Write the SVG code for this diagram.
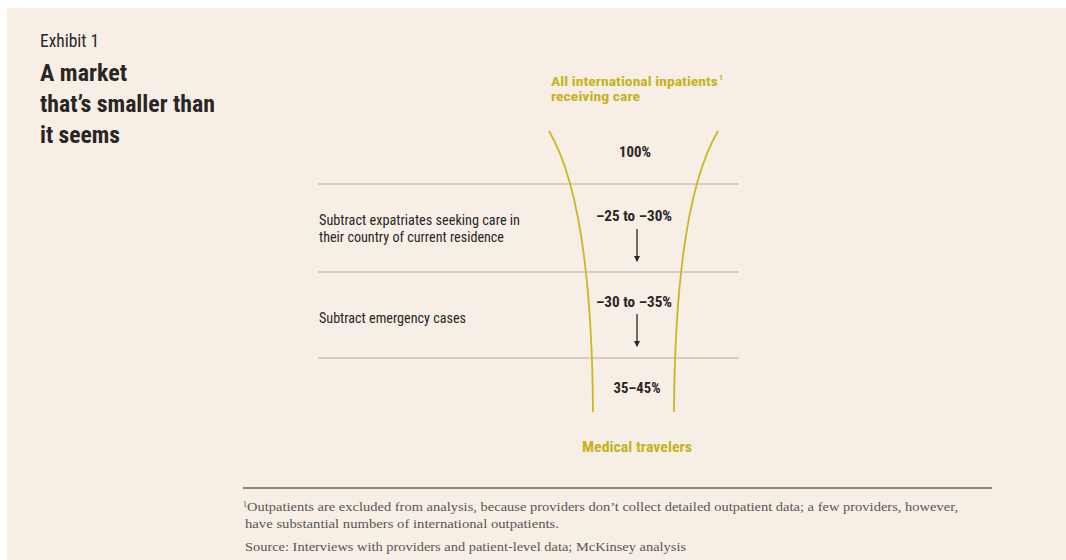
<svg xmlns="http://www.w3.org/2000/svg" width="1066" height="560" viewBox="0 0 1066 560">
  <style>
    .cond { font-family: "Liberation Sans Narrow", "Roboto Condensed", "Liberation Sans", Arial, sans-serif; fill: #2a2626; }
    .bold { font-weight: bold; }
    .gold { fill: #c6b31c; }
    .note { font-family: "Liberation Serif", "Times New Roman", serif; fill: #5a5555; font-size: 12px; }
    .rule { stroke: #d3cdc6; stroke-width: 2; }
    .funnel { fill: none; stroke: #c9b91e; stroke-width: 1.8; }
    .arrow { stroke: #2a2626; stroke-width: 1.3; marker-end: url(#ah); }
  </style>
  <defs>
    <marker id="ah" viewBox="0 0 6 6" refX="5" refY="3" markerWidth="6" markerHeight="6" markerUnits="userSpaceOnUse" orient="auto">
      <path d="M0,0 L6,3 L0,6 Z" fill="#2a2626"/>
    </marker>
  </defs>

  <rect x="0" y="0" width="1066" height="560" fill="#ffffff"/>
  <rect x="7" y="8" width="1059" height="552" fill="#f7efe6"/>

  <g id="header">
    <text class="cond" x="40" y="47" font-size="18" textLength="59" lengthAdjust="spacingAndGlyphs">Exhibit 1</text>
    <text class="cond bold" x="40" y="81" font-size="23" textLength="87" lengthAdjust="spacingAndGlyphs">A market</text>
    <text class="cond bold" x="40" y="112" font-size="23" textLength="175" lengthAdjust="spacingAndGlyphs">that’s smaller than</text>
    <text class="cond bold" x="40" y="143" font-size="23" textLength="80" lengthAdjust="spacingAndGlyphs">it seems</text>
  </g>

  <g id="rules">
    <line class="rule" x1="318" y1="184" x2="739" y2="184"/>
    <line class="rule" x1="318" y1="272" x2="739" y2="272"/>
    <line class="rule" x1="318" y1="358" x2="739" y2="358"/>
  </g>

  <g id="funnel">
    <path class="funnel" d="M549,131 C572,170 592,250 593,412"/>
    <path class="funnel" d="M718,131 C695,170 675,250 674,412"/>
  </g>

  <g id="top-label">
    <text class="cond bold gold" x="551" y="86" font-size="13.5" textLength="167" lengthAdjust="spacingAndGlyphs">All international inpatients</text>
    <text class="cond bold gold" x="719" y="80" font-size="8">1</text>
    <text class="cond bold gold" x="551" y="101" font-size="13.5" textLength="89" lengthAdjust="spacingAndGlyphs">receiving care</text>
  </g>

  <g id="stage-100">
    <text class="cond bold" x="635" y="157" font-size="14" text-anchor="middle" textLength="32" lengthAdjust="spacingAndGlyphs">100%</text>
  </g>

  <g id="stage-expat">
    <text class="cond" x="319" y="225" font-size="15" textLength="201" lengthAdjust="spacingAndGlyphs">Subtract expatriates seeking care in</text>
    <text class="cond" x="319" y="242" font-size="15" textLength="185" lengthAdjust="spacingAndGlyphs">their country of current residence</text>
    <text class="cond bold" x="634" y="221" font-size="14" text-anchor="middle" textLength="76" lengthAdjust="spacingAndGlyphs">–25 to –30%</text>
  </g>

  <g id="stage-emergency">
    <text class="cond" x="319" y="323" font-size="15" textLength="147" lengthAdjust="spacingAndGlyphs">Subtract emergency cases</text>
    <text class="cond bold" x="634" y="307" font-size="14" text-anchor="middle" textLength="76" lengthAdjust="spacingAndGlyphs">–30 to –35%</text>
  </g>

  <g id="stage-result">
    <text class="cond bold" x="637" y="393" font-size="14" text-anchor="middle" textLength="47" lengthAdjust="spacingAndGlyphs">35–45%</text>
  </g>

  <g id="bottom-label">
    <text class="cond bold gold" x="637" y="452" font-size="15" text-anchor="middle" textLength="110" lengthAdjust="spacingAndGlyphs">Medical travelers</text>
  </g>

  <g id="connectors">
    <line class="arrow" x1="637" y1="229" x2="637" y2="261"/>
    <line class="arrow" x1="637" y1="314" x2="637" y2="346"/>
  </g>

  <g id="footer">
    <line x1="243" y1="488" x2="992" y2="488" stroke="#8a8580" stroke-width="2"/>
    <text class="note" x="243" y="511"><tspan font-size="8" dy="-4">1</tspan><tspan dy="4" textLength="711" lengthAdjust="spacingAndGlyphs">Outpatients are excluded from analysis, because providers don’t collect detailed outpatient data; a few providers, however,</tspan></text>
    <text class="note" x="245" y="528" textLength="314" lengthAdjust="spacingAndGlyphs">have substantial numbers of international outpatients.</text>
    <text class="note" x="245" y="551" textLength="441" lengthAdjust="spacingAndGlyphs">Source: Interviews with providers and patient-level data; McKinsey analysis</text>
  </g>
</svg>
